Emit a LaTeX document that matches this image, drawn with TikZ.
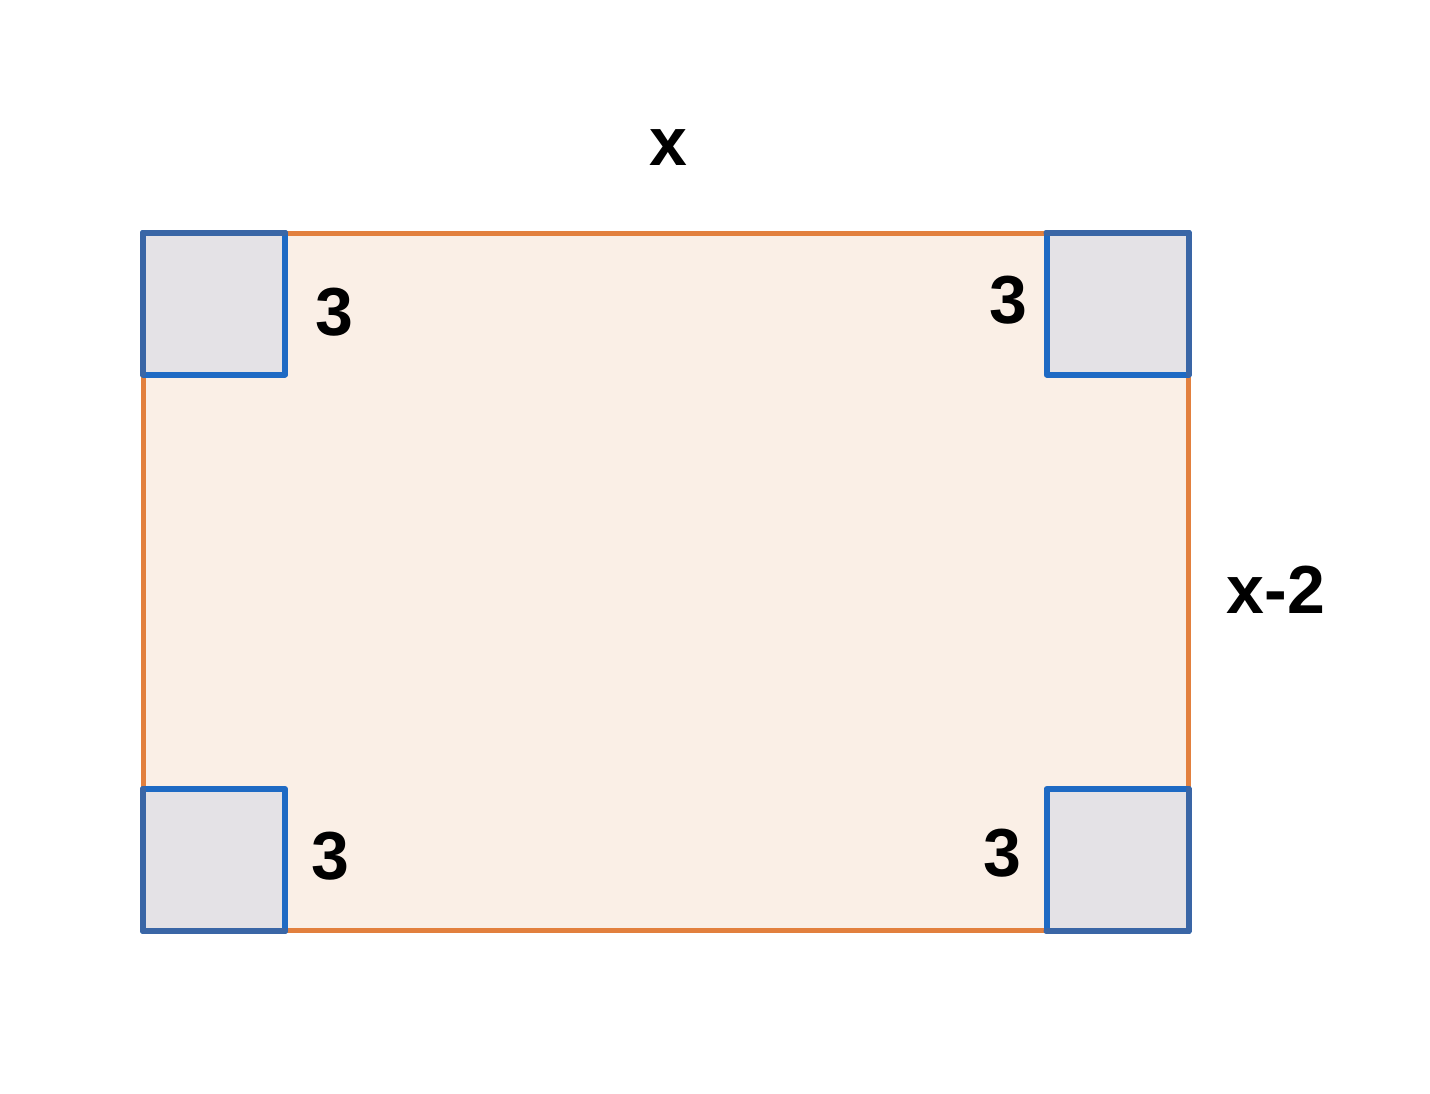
\documentclass[tikz,border=0pt]{standalone}
\usepackage{fontspec}
\setmainfont{Liberation Sans}
\usetikzlibrary{positioning}
\definecolor{rimorange}{RGB}{226,128,62}
\definecolor{sheetfill}{RGB}{250,239,230}
\definecolor{cutfill}{RGB}{228,226,230}
\definecolor{cutblue}{RGB}{30,106,196}
\definecolor{cutdark}{RGB}{58,102,166}
\tikzset {
  cut/.style={draw=cutblue,fill=cutfill,line width=3pt,line join=round,
    minimum size=71pt,inner sep=0pt,outer sep=0pt},
  rim/.style={cutdark,line width=3pt,line join=round,line cap=round},
  lbl/.style={font=\bfseries\fontsize{34}{38}\selectfont,inner sep=0pt}
}

\begin{document}
\begin{tikzpicture}[x=0.5pt,y=-0.5pt]
\useasboundingbox (0,0) rectangle (1430,1093);
\draw[rimorange,fill=sheetfill,line width=2.5pt] (143,233) rectangle (1188,930);
\node[cut] (tl) at (214,303.5) {};
\node[cut] (tr) at (1117.5,303.5) {};
\node[cut] (bl) at (214,860) {};
\node[cut] (br) at (1117.5,860) {};
\draw[rim] (tl.south west) -- (tl.north west) -- (tl.north east);
\draw[rim] (tr.north west) -- (tr.north east) -- (tr.south east);
\draw[rim] (bl.north west) -- (bl.south west) -- (bl.south east);
\draw[rim] (br.south west) -- (br.south east) -- (br.north east);
\node[lbl] (top) at (668,148) {x};
\node[lbl] (side) at (1276,590) {x-2};
\node[lbl] (ntl) at (334,312) {3};
\node[lbl] (ntr) at (1008,300) {3};
\node[lbl] (nbl) at (330,856) {3};
\node[lbl] (nbr) at (1002,853) {3};
\end{tikzpicture}
\end{document}
